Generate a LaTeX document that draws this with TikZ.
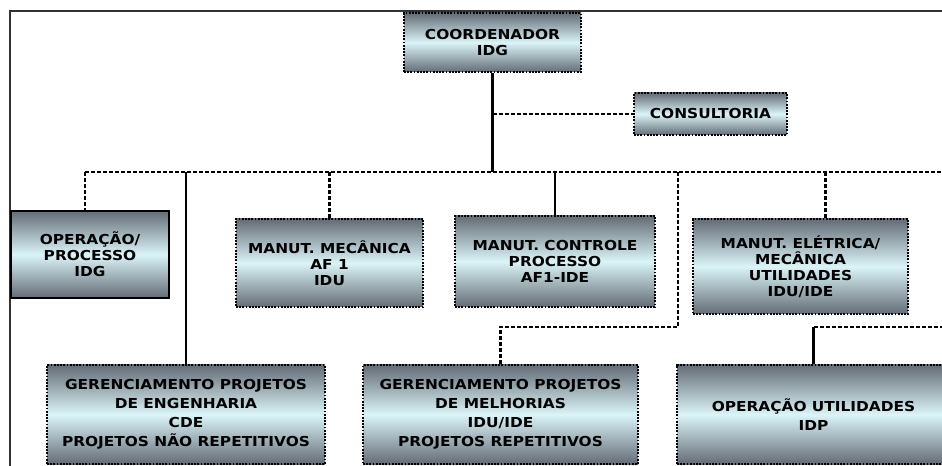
\documentclass[tikz,border=0pt]{standalone}
\usepackage{fontspec}
\setmainfont{DejaVu Sans}[FakeStretch=1.12]
\usetikzlibrary{positioning}
\definecolor{boxdark}{RGB}{100,108,118}
\definecolor{boxlight}{RGB}{218,244,248}
\definecolor{framegray}{RGB}{50,50,50}

\begin{document}
\begin{tikzpicture}[x=0.75pt,y=-0.75pt,
  unit/.style={draw=black,line width=1.4pt,densely dotted,top color=boxdark,bottom color=boxdark,middle color=boxlight,
    align=center,inner sep=2pt,font=\fontsize{10.3}{12}\selectfont\bfseries},
  bigunit/.style={unit,font=\fontsize{10.3}{14.25}\selectfont\bfseries},
  solidline/.style={line width=2.2pt},
  dotline/.style={line width=2.2pt,dash pattern=on 3pt off 1.5pt}]
\useasboundingbox (0,0) rectangle (942,466);
% frame
\draw[framegray,line width=1.6pt] (10,466) -- (10,11) -- (942,11);

% units
\node[unit,minimum width=132.75pt,minimum height=44.25pt] (coord) at (492.5,42.5) {COORDENADOR\\IDG};
\node[unit,minimum width=114.75pt,minimum height=31.5pt] (consult) at (710.5,114) {CONSULTORIA};
\node[unit,solid,minimum width=118.5pt,minimum height=65.25pt] (oper) at (90,254.5) {OPERAÇÃO/\\PROCESSO\\IDG};
\node[unit,minimum width=140.25pt,minimum height=66pt] (mecan) at (329.5,263) {MANUT. MECÂNICA\\AF 1\\IDU};
\node[unit,minimum width=150pt,minimum height=68.25pt] (ctrl) at (555,261.5) {MANUT. CONTROLE\\PROCESSO\\AF1-IDE};
\node[unit,minimum width=161.25pt,minimum height=71.25pt] (eletr) at (800.5,266.5) {MANUT. ELÉTRICA/\\MECÂNICA\\UTILIDADES\\IDU/IDE};
\node[bigunit,minimum width=208.5pt,minimum height=74.25pt] (gpe) at (186,414.5) {GERENCIAMENTO PROJETOS\\DE ENGENHARIA\\CDE\\PROJETOS NÃO REPETITIVOS};
\node[bigunit,minimum width=206.25pt,minimum height=74.25pt] (gpm) at (500.5,414.5) {GERENCIAMENTO PROJETOS\\DE MELHORIAS\\IDU/IDE\\PROJETOS REPETITIVOS};
\node[bigunit,minimum width=204.75pt,minimum height=74.25pt] (oputil) at (813.5,414.5) {OPERAÇÃO UTILIDADES\\IDP};

% connectors
\coordinate (busL) at (85,172);
\coordinate (busR) at (942,172);
\coordinate (staff) at (coord.south |- consult.west);
\coordinate (jog) at (678,327);
\coordinate (edgeR) at (942,327);
\draw[dotline] (busL) -- (busR);
\draw[solidline] (coord.south) -- (coord.south |- busL);
\draw[dotline] (staff) -- (consult.west);
\draw[dotline] (busL) -- (busL |- oper.north);
\draw[solidline] (gpe.north) -- (gpe.north |- busL);
\draw[dotline] (mecan.north) -- (mecan.north |- busL);
\draw[solidline] (ctrl.north) -- (ctrl.north |- busL);
\draw[dotline] (gpm.north) |- (jog) -- (jog |- busL);
\draw[dotline] ([xshift=19pt]eletr.north) -- ([xshift=19pt]eletr.north |- busL);
\draw[solidline] (oputil.north) -- (oputil.north |- edgeR);
\draw[dotline] (oputil.north |- edgeR) -- (edgeR);
\end{tikzpicture}
\end{document}
